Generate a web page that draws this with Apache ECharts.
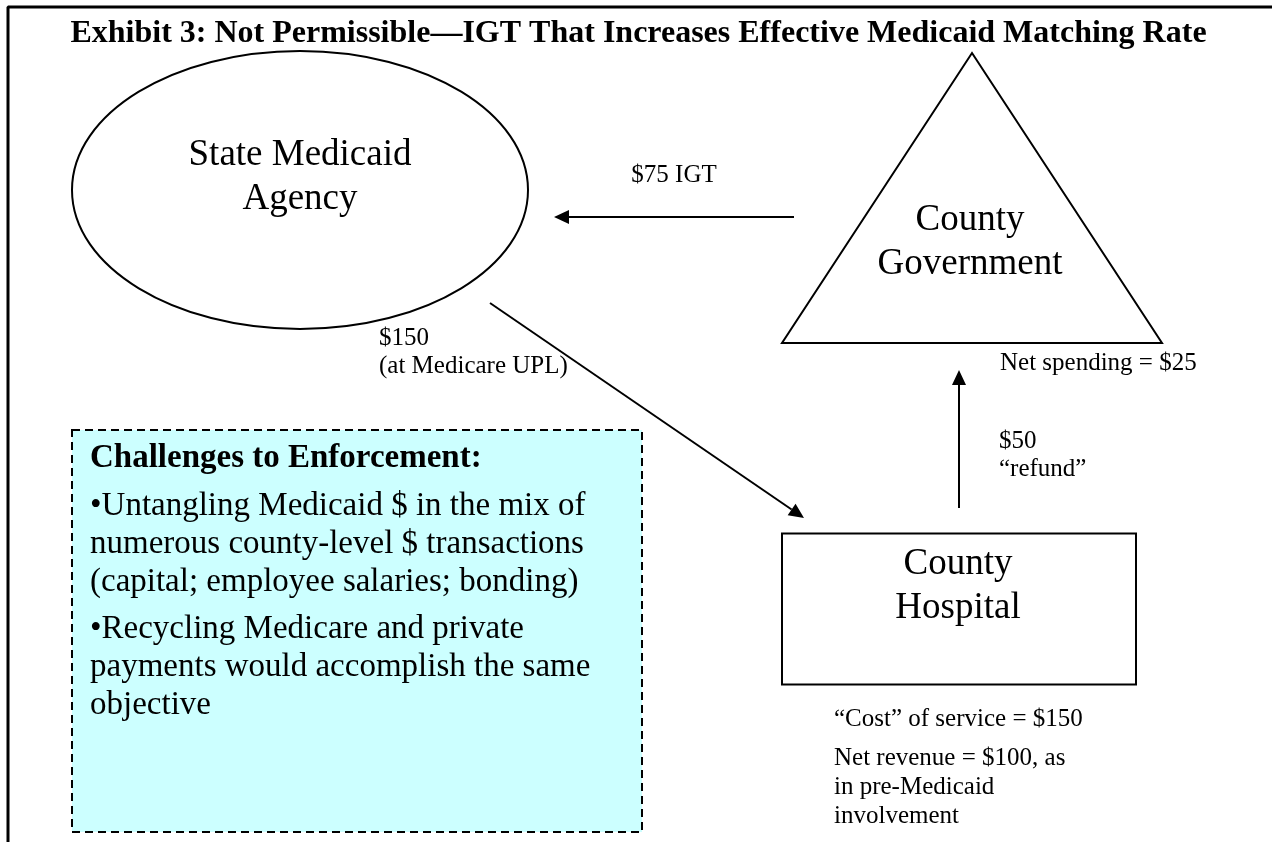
<!DOCTYPE html>
<html>
<head>
<meta charset="utf-8">
<script src="https://cdn.jsdelivr.net/npm/echarts@6/dist/echarts.min.js"></script>
<style>
  html, body { margin: 0; padding: 0; background: #fff; }
  #chart { width: 1277px; height: 842px; }
</style>
</head>
<body>
<div id="chart"></div>
<script>
const titleText = 'Exhibit 3: Not Permissible—IGT That Increases Effective Medicaid Matching Rate';

// the three parties: outline type, centre x/y, width/height (page units)
const nodeNames = ['State Medicaid\nAgency', 'County\nGovernment', 'County\nHospital'];
const nodeShapes = ['ellipse', 'triangle', 'rect'];
const nodeBoxes = [[300, 190, 456, 278], [972, 198, 380, 290], [959, 609, 354, 151]];
const nodeLabelAt = [[300, 168], [970, 233], [958, 577]]; // centre x, first baseline

// money flows between them
const flowLabels = ['$75 IGT', '$150\n(at Medicare UPL)', '$50\n“refund”'];
const flowStart = [[794, 217], [490, 303], [959, 508]];
const flowEnd = [[554, 217], [804, 518], [959, 370]];
const flowLabelAt = [[674, 184], [379, 347], [999, 450]];

// notes next to the nodes
const noteTexts = ['Net spending = $25', '“Cost” of service = $150', 'Net revenue = $100, as\nin pre-Medicaid\ninvolvement'];
const noteAt = [[1000, 372], [834, 728], [834, 767]];

// enforcement box
const boxRect = [357, 631, 570, 402];
const boxHeading = 'Challenges to Enforcement:';
const boxBullets = [
  '•Untangling Medicaid $ in the mix of\nnumerous county-level $ transactions\n(capital; employee salaries; bonding)',
  '•Recycling Medicare and private\npayments would accomplish the same\nobjective'
];
const boxTextAt = [[90, 470], [90, 517], [90, 640]];

// page frame (left and top rule)
const frame = [[8, 842], [8, 7], [1272, 7]];

const serif = "'Liberation Serif', 'Times New Roman', serif";

// every text piece: anchor x, first baseline y, size, weight, align, line height
const texts = [];
nodeNames.forEach((t, i) => texts.push({ t, x: nodeLabelAt[i][0], y: nodeLabelAt[i][1], size: 37, weight: 'normal', align: 'center', lh: 44 }));
flowLabels.forEach((t, i) => texts.push({ t, x: flowLabelAt[i][0], y: flowLabelAt[i][1], size: 25, weight: 'normal', align: i === 0 ? 'center' : 'left', lh: 28 }));
noteTexts.forEach((t, i) => texts.push({ t, x: noteAt[i][0], y: noteAt[i][1], size: 25, weight: 'normal', align: 'left', lh: 29 }));
texts.push({ t: boxHeading, x: boxTextAt[0][0], y: boxTextAt[0][1], size: 33, weight: 'bold', align: 'left', lh: 38 });
boxBullets.forEach((t, i) => texts.push({ t, x: boxTextAt[i + 1][0], y: boxTextAt[i + 1][1], size: 33, weight: 'normal', align: 'left', lh: 38 }));

const chart = echarts.init(document.getElementById('chart'));

function cornerBox(api) {
  const cx = api.value(0), cy = api.value(1), w = api.value(2), h = api.value(3);
  const p0 = api.coord([cx - w / 2, cy - h / 2]);
  const p1 = api.coord([cx + w / 2, cy + h / 2]);
  return {
    x: Math.min(p0[0], p1[0]), y: Math.min(p0[1], p1[1]),
    w: Math.abs(p1[0] - p0[0]), h: Math.abs(p1[1] - p0[1])
  };
}

const option = {
  animation: false,
  backgroundColor: '#fff',
  title: {
    text: titleText,
    left: 'center',
    top: 18,
    padding: 0,
    textStyle: { fontFamily: serif, fontSize: 32, fontWeight: 'bold', color: '#000', lineHeight: 32 }
  },
  grid: { left: 0, right: 0, top: 0, bottom: 0 },
  xAxis: { type: 'value', min: 0, max: 1277, show: false },
  yAxis: { type: 'value', min: 0, max: 842, inverse: true, show: false },
  series: [
    {
      name: 'frame',
      type: 'line',
      data: frame,
      symbol: 'none',
      lineStyle: { color: '#000', width: 3 },
      silent: true
    },
    {
      name: 'box',
      type: 'custom',
      clip: false,
      data: [boxRect],
      renderItem: (params, api) => {
        const b = cornerBox(api);
        return {
          type: 'rect',
          shape: { x: b.x, y: b.y, width: b.w, height: b.h },
          style: { fill: '#ccffff', stroke: '#000', lineWidth: 2, lineDash: [8, 5] }
        };
      }
    },
    {
      name: 'nodes',
      type: 'custom',
      clip: false,
      data: nodeBoxes,
      renderItem: (params, api) => {
        const b = cornerBox(api);
        const style = { fill: '#fff', stroke: '#000', lineWidth: 2 };
        const kind = nodeShapes[params.dataIndex];
        if (kind === 'ellipse') {
          return { type: 'ellipse', shape: { cx: b.x + b.w / 2, cy: b.y + b.h / 2, rx: b.w / 2, ry: b.h / 2 }, style };
        }
        if (kind === 'triangle') {
          return { type: 'polygon', shape: { points: [[b.x + b.w / 2, b.y], [b.x + b.w, b.y + b.h], [b.x, b.y + b.h]] }, style };
        }
        return { type: 'rect', shape: { x: b.x, y: b.y, width: b.w, height: b.h }, style };
      }
    },
    {
      name: 'flows',
      type: 'custom',
      clip: false,
      data: flowStart.map((s, i) => [s[0], s[1], flowEnd[i][0], flowEnd[i][1]]),
      renderItem: (params, api) => {
        const a = api.coord([api.value(0), api.value(1)]);
        const b = api.coord([api.value(2), api.value(3)]);
        const ang = Math.atan2(b[1] - a[1], b[0] - a[0]);
        const len = 15, half = 7;
        const base = [b[0] - len * Math.cos(ang), b[1] - len * Math.sin(ang)];
        const l = [base[0] + half * Math.sin(ang), base[1] - half * Math.cos(ang)];
        const r = [base[0] - half * Math.sin(ang), base[1] + half * Math.cos(ang)];
        return {
          type: 'group',
          children: [
            { type: 'line', shape: { x1: a[0], y1: a[1], x2: base[0], y2: base[1] }, style: { stroke: '#000', lineWidth: 2 } },
            { type: 'polygon', shape: { points: [b, l, r] }, style: { fill: '#000' } }
          ]
        };
      }
    },
    {
      name: 'labels',
      type: 'custom',
      clip: false,
      data: texts.map(d => [d.x, d.y]),
      renderItem: (params, api) => {
        const d = texts[params.dataIndex];
        const p = api.coord([api.value(0), api.value(1)]);
        // convert first baseline to top of the text block
        const top = p[1] - d.size * 0.3375 - d.lh / 2;
        return {
          type: 'text',
          style: {
            text: d.t, x: p[0], y: top,
            fill: '#000', fontFamily: serif, fontSize: d.size, fontWeight: d.weight,
            align: d.align, verticalAlign: 'top', lineHeight: d.lh
          }
        };
      }
    }
  ]
};

chart.setOption(option);
</script>
</body>
</html>
